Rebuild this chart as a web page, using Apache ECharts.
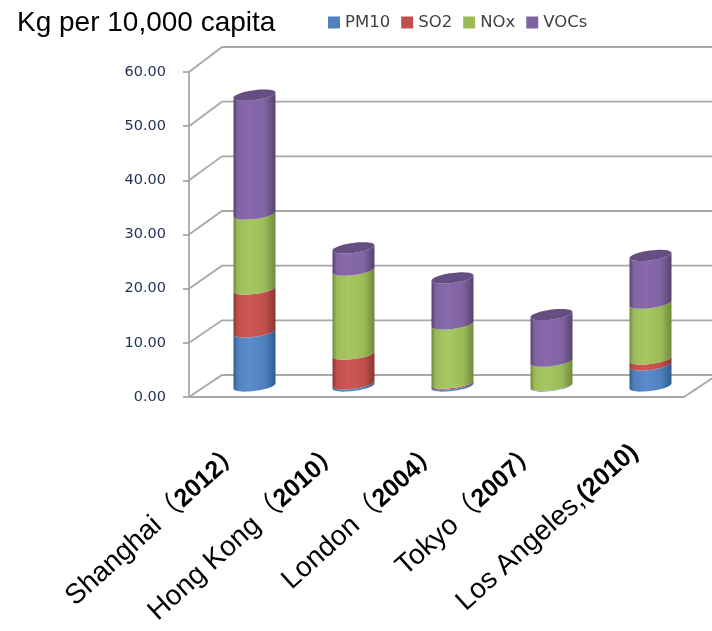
<!DOCTYPE html>
<html><head><meta charset="utf-8">
<style>html,body{margin:0;padding:0;background:#fff}#c{width:712px;height:631px}</style>
<script src="https://cdn.jsdelivr.net/npm/echarts@6/dist/echarts.min.js"></script>
</head><body><div id="c"></div>
<script>
const cities = ['Shanghai（', 'Hong Kong（', 'London（', 'Tokyo（', 'Los Angeles,'];
const years = ['2012）', '2010）', '2004）', '2007）', '(2010)'];
const PM10 = [10.0, 0.4, 0.35, 0.1, 3.9];
const SO2 = [7.9, 5.5, 0.2, 0.03, 1.1];
const NOx = [13.85, 15.5, 10.9, 4.45, 10.3];
const VOCs = [21.95, 4.1, 8.5, 8.6, 8.8];
const yTicks = [0, 10, 20, 30, 40, 50, 60];

const seriesNames = ['PM10', 'SO2', 'NOx', 'VOCs'];
const seriesValues = [PM10, SO2, NOx, VOCs];
const palette = [
  {base:'#4f81bd', edge:'#2f5b8f', mid:'#5b8ccc'},
  {base:'#c0504d', edge:'#8b3633', mid:'#cd5753'},
  {base:'#9bbb59', edge:'#6f8a3c', mid:'#a6c862'},
  {base:'#8064a2', edge:'#574270', mid:'#8769ac'}
];
const DEPTH_X = 33, MID_X = 16, MID_Y = 11;
const A = 21, B = 5, TILT = 2.6;
const GRID = '#a8a8a8';

const chart = echarts.init(document.getElementById('c'), null, {renderer:'canvas'});

function arcPt(cx, y, t){ return [cx + A*Math.cos(t), y + B*Math.sin(t) - TILT*Math.cos(t)]; }
function frontArc(cx, y, reverse){
  const pts = [];
  for(let i=0;i<=24;i++){ const t = Math.PI*i/24; pts.push(arcPt(cx, y, reverse ? Math.PI-t : t)); }
  return pts;
}
function cylinder(pal, isTop){
  return function(params, api){
    const lo = api.coord([api.value(0), api.value(1)]);
    const hi = api.coord([api.value(0), api.value(2)]);
    const cx = lo[0] + MID_X, yb = lo[1] - MID_Y, yt = hi[1] - MID_Y;
    const fill = new echarts.graphic.LinearGradient(0,0,1,0,[
      {offset:0, color:pal.edge},{offset:0.1, color:pal.base},{offset:0.38, color:pal.mid},
      {offset:0.75, color:pal.base},{offset:1, color:pal.edge}]);
    const children = [{type:'polygon', shape:{points: frontArc(cx, yb, false).concat(frontArc(cx, yt, true))}, style:{fill}}];
    if(isTop){
      const ell = [];
      for(let i=0;i<48;i++){ ell.push(arcPt(cx, yt, 2*Math.PI*i/48)); }
      children.push({type:'polygon', shape:{points:ell}, style:{fill:'#654e82'}});
    }
    return {type:'group', children};
  };
}
function wall(params, api){
  const v = api.value(0), cs = params.coordSys;
  const p = api.coord([0, v]);
  const y = p[1], x0 = cs.x, x1 = cs.x + cs.width;
  const by = y - 22 - 3*v/60;
  const st = {stroke:GRID, lineWidth:1.8, fill:null};
  const children = [{type:'polyline', shape:{points:[[x0,y],[x0+DEPTH_X,by],[x1+DEPTH_X+10,by]]}, style:st}];
  if(v === 0){
    children.push({type:'line', shape:{x1:x1,y1:y,x2:x1+DEPTH_X,y2:by}, style:st});
  }
  return {type:'group', children};
}
let cum = cities.map(()=>0);
const bars = seriesNames.map((name,k)=>{
  const data = cities.map((c,i)=>{ const d=[i,cum[i],cum[i]+seriesValues[k][i]]; cum[i]=d[2]; return d; });
  return {name, type:'custom', renderItem:cylinder(palette[k], k===3), data, z:3, clip:false,
    itemStyle:{color:palette[k].base}, encode:{x:0,y:[1,2]}, silent:true, animation:false};
});
chart.setOption({
  animation:false,
  textStyle:{fontFamily:'Liberation Sans'},
  title:{text:'Kg per 10,000 capita', left:12, top:4, textStyle:{fontFamily:'Liberation Sans', fontSize:28, fontWeight:'normal', color:'#000'}},
  legend:{data:seriesNames, left:323, top:9, itemWidth:12, itemHeight:12, itemGap:11, icon:'rect',
    textStyle:{fontFamily:'DejaVu Sans', fontSize:16.5, color:'#404040'}},
  grid:{left:189, right:28, top:72, bottom:234, containLabel:false},
  xAxis:{type:'category', data:cities.map((c,i)=>i), boundaryGap:true,
    axisLine:{lineStyle:{color:GRID,width:1.8}}, axisTick:{length:10,lineStyle:{color:GRID,width:1.8},alignWithLabel:false},
    axisLabel:{interval:0, rotate:42, margin:52, align:'right', verticalAlign:'middle',
      formatter:(v)=>{const i=+v; return '{n|'+cities[i]+'}{y|'+years[i]+'}';},
      rich:{n:{fontFamily:'Liberation Sans, Noto Sans CJK SC', fontSize:28, color:'#000'},
            y:{fontFamily:'Liberation Sans, Noto Sans CJK SC', fontSize:25, fontWeight:'bold', color:'#000'}}}},
  yAxis:{type:'value', min:0, max:60, interval:10,
    axisLine:{show:true,lineStyle:{color:GRID,width:1.8}}, axisTick:{show:true,length:6,lineStyle:{color:GRID,width:1.8}},
    splitLine:{show:false},
    axisLabel:{margin:23, formatter:v=>v.toFixed(2), fontFamily:'DejaVu Sans', fontSize:14.5, color:'#1f2f55'}},
  series:[{type:'custom', renderItem:wall, data:yTicks.map(v=>[v]), encode:{y:0}, z:1, silent:true, clip:false, animation:false}].concat(bars)
});
</script></body></html>
